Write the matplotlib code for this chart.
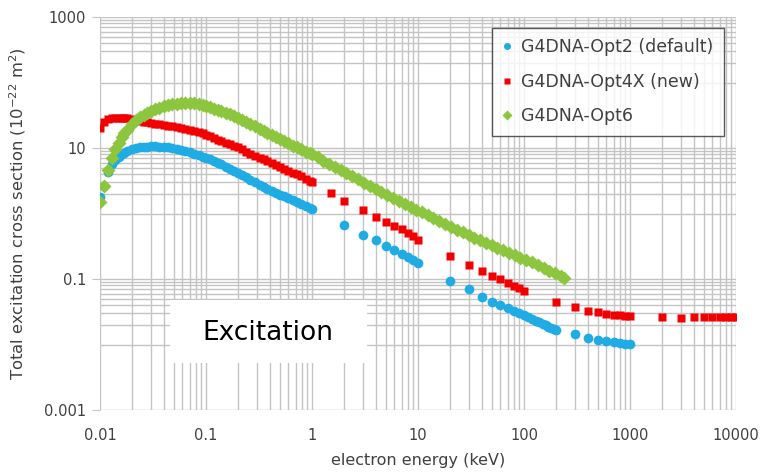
import matplotlib
matplotlib.use("Agg")
import matplotlib.pyplot as plt
from matplotlib.patches import Rectangle

# --- data (energy in keV, cross section in 1e-22 m^2) ---
e_low = [0.010, 0.011, 0.012, 0.013, 0.014, 0.015, 0.016, 0.017, 0.018, 0.020,
         0.022, 0.024, 0.026, 0.028, 0.030, 0.033, 0.036, 0.040, 0.044, 0.048,
         0.053, 0.058, 0.064, 0.070, 0.077, 0.085, 0.093, 0.10, 0.11, 0.12,
         0.13, 0.14, 0.155, 0.17, 0.185, 0.20, 0.22, 0.24, 0.26, 0.29,
         0.32, 0.35, 0.38, 0.42, 0.46, 0.50, 0.55, 0.60, 0.66, 0.72,
         0.79, 0.87, 0.95, 1.0]

opt2_low = [1.8, 2.6, 4.3, 5.6, 6.6, 7.4, 8.0, 8.5, 8.9, 9.5,
            9.9, 10.2, 10.4, 10.5, 10.6, 10.6, 10.5, 10.4, 10.2, 10.0,
            9.7, 9.4, 9.0, 8.6, 8.2, 7.8, 7.4, 7.1, 6.7, 6.3,
            5.9, 5.6, 5.2, 4.8, 4.5, 4.2, 3.9, 3.6, 3.3, 3.0,
            2.75, 2.55, 2.4, 2.2, 2.05, 1.95, 1.85, 1.7, 1.6, 1.5,
            1.42, 1.32, 1.22, 1.18]
opt2_e_high = [2, 3, 4, 5, 6, 7, 8, 9, 10,
               20, 30, 40, 50, 60, 70, 80, 90, 100, 110, 120, 130, 140, 150,
               160, 170, 180, 190, 200,
               300, 400, 500, 600, 700, 800, 900, 1000]
opt2_high = [0.67, 0.47, 0.39, 0.32, 0.274, 0.240, 0.213, 0.193, 0.176,
             0.094, 0.070, 0.053, 0.045, 0.040, 0.036, 0.033, 0.030, 0.028,
             0.0261, 0.0244, 0.0230, 0.0218, 0.0207, 0.0197, 0.0188, 0.0181,
             0.0173, 0.0167,
             0.0145, 0.0126, 0.0117, 0.0112, 0.0108, 0.0105, 0.0103, 0.0102]

opt4x_low = [20.0, 25.0, 27.5, 28.5, 29.0, 29.0, 29.0, 28.7, 28.3, 27.6,
             26.8, 26.0, 25.3, 24.7, 24.1, 23.5, 23.0, 22.4, 21.9, 21.3,
             20.7, 20.1, 19.4, 18.7, 18.1, 17.5, 16.7, 16.0, 15.0, 14.2,
             13.4, 12.7, 12.0, 11.5, 10.9, 10.3, 9.5, 8.8, 8.2, 7.6,
             7.1, 6.7, 6.4, 5.9, 5.5, 5.1, 4.7, 4.4, 4.15, 3.95,
             3.75, 3.4, 3.15, 3.0]
opt4x_e_high = [1.5, 2, 3, 4, 5, 6, 7, 8, 9, 10,
                20, 30, 40, 50, 60, 70, 80, 90, 100,
                200, 300, 400, 500, 600, 700, 800, 900, 1000,
                2000, 3000, 4000, 5000, 6000, 7000, 8000, 9000, 10000]
opt4x_high = [2.06, 1.55, 1.13, 0.88, 0.74, 0.64, 0.57, 0.51, 0.45, 0.40,
              0.224, 0.163, 0.132, 0.112, 0.099, 0.088, 0.079, 0.072, 0.066,
              0.044, 0.0378, 0.0329, 0.031, 0.029, 0.0285, 0.028, 0.0275, 0.0272,
              0.0266, 0.0252, 0.0266, 0.0266, 0.0266, 0.0266, 0.0266, 0.0266, 0.0266]

opt6_low = [1.5, 2.6, 4.6, 7.0, 9.5, 12.0, 14.5, 17.0, 19.0, 23.0,
            26.5, 29.5, 32.0, 34.5, 36.5, 39.0, 41.0, 43.5, 45.0, 46.5,
            47.5, 48.0, 48.5, 48.3, 47.8, 46.8, 45.5, 44.0, 42.0, 40.0,
            38.0, 36.5, 34.5, 32.5, 30.5, 28.5, 26.5, 24.8, 23.3, 21.3,
            19.7, 18.3, 17.1, 15.8, 14.7, 13.7, 12.7, 11.8, 10.9, 10.2,
            9.5, 8.8, 8.3, 8.0]
opt6_e_high = [1.13, 1.28, 1.45, 1.65, 1.87, 2.1, 2.4, 2.7, 3.1, 3.5, 4.0,
               4.5, 5.1, 5.8, 6.6, 7.5, 8.5, 9.6, 10.9, 12.3, 14.0,
               15.9, 18, 20.5, 23.2, 26.3, 30, 34, 38.5, 43.5, 49.5, 56,
               63.5, 72, 81.5, 92.5, 105, 119, 135, 153, 173, 196, 222, 240]
opt6_high = [7.18, 6.44, 5.77, 5.15, 4.61, 4.16, 3.70, 3.34, 2.96, 2.66, 2.36,
             2.14, 1.93, 1.735, 1.56, 1.40, 1.26, 1.147, 1.038, 0.943, 0.852,
             0.769, 0.697, 0.628, 0.569, 0.514, 0.468, 0.4275, 0.391, 0.358, 0.326, 0.2985,
             0.274, 0.2516, 0.2312, 0.2122, 0.1947, 0.1788, 0.1624, 0.1477, 0.1345,
             0.1223, 0.1112, 0.1048]

x_ticks = [0.01, 0.1, 1, 10, 100, 1000, 10000]
x_labels = ["0.01", "0.1", "1", "10", "100", "1000", "10000"]
y_ticks = [0.001, 0.1, 10, 1000]
y_labels = ["0.001", "0.1", "10", "1000"]
y_minor = [k * 10.0 ** n for n in (-2, 0, 2) for k in range(1, 10)]

BLUE = "#1FABE3"
RED = "#F20000"
GREEN = "#8CC63F"
GRID = "#c4c4c4"
TXT = "#404040"

fig = plt.figure(figsize=(7.6, 4.72), dpi=100)
ax = fig.add_axes([100 / 760, 1 - 410 / 472, 636 / 760, 393 / 472])
ax.set_xscale("log")
ax.set_yscale("log")
ax.set_xlim(0.01, 10000)
ax.set_ylim(0.001, 1000)

ax.plot(e_low + opt2_e_high, opt2_low + opt2_high, "o", ms=7.0, color=BLUE,
        mec="none", label="G4DNA-Opt2 (default)", zorder=3)
ax.plot(e_low + opt4x_e_high, opt4x_low + opt4x_high, "s", ms=6.4, color=RED,
        mec="none", label="G4DNA-Opt4X (new)", zorder=3)
ax.plot(e_low + opt6_e_high, opt6_low + opt6_high, "D", ms=6.8, color=GREEN,
        mec="none", label="G4DNA-Opt6", zorder=3)

# Excel-like grid
ax.set_xticks(x_ticks, x_labels)
ax.set_yticks(y_ticks, y_labels)
ax.set_yticks(y_minor, minor=True)
ax.grid(True, which="both", axis="x", color=GRID, lw=1.0)
ax.grid(True, which="both", axis="y", color=GRID, lw=1.0)
ax.set_axisbelow(True)
for s in ax.spines.values():
    s.set_visible(False)
ax.tick_params(axis="y", which="major", length=6, color=GRID, pad=4,
               labelsize=10.5, labelcolor=TXT)
ax.tick_params(axis="x", which="major", length=0, pad=13,
               labelsize=10.5, labelcolor=TXT)
ax.tick_params(which="minor", length=0, labelleft=False, labelbottom=False)

ax.set_xlabel("electron energy (keV)", fontsize=11.5, color=TXT, labelpad=7)
ax.set_ylabel("Total excitation cross section (10$^{-22}$ m$^2$)", fontsize=11.8,
              color=TXT)
ax.yaxis.set_label_coords(-0.113, 0.5)

leg = ax.legend(loc="upper right", bbox_to_anchor=(0.981, 0.972), borderaxespad=0,
                fontsize=12.5, frameon=True, fancybox=False, labelspacing=0.95,
                handlelength=0.6, handletextpad=0.5, borderpad=0.6,
                markerscale=0.72)
leg.get_frame().set_edgecolor("#303030")
leg.get_frame().set_linewidth(1.0)
for t in leg.get_texts():
    t.set_color(TXT)

# "Excitation" label box
ax.add_patch(Rectangle((70 / 636, 47 / 393), 197 / 636, 63 / 393,
                       transform=ax.transAxes, facecolor="white",
                       edgecolor="none", zorder=2))
ax.text(168 / 636, 77 / 393, "Excitation", transform=ax.transAxes,
        ha="center", va="center", fontsize=19, color="black", zorder=4)

fig.savefig("out.png", dpi=100)
